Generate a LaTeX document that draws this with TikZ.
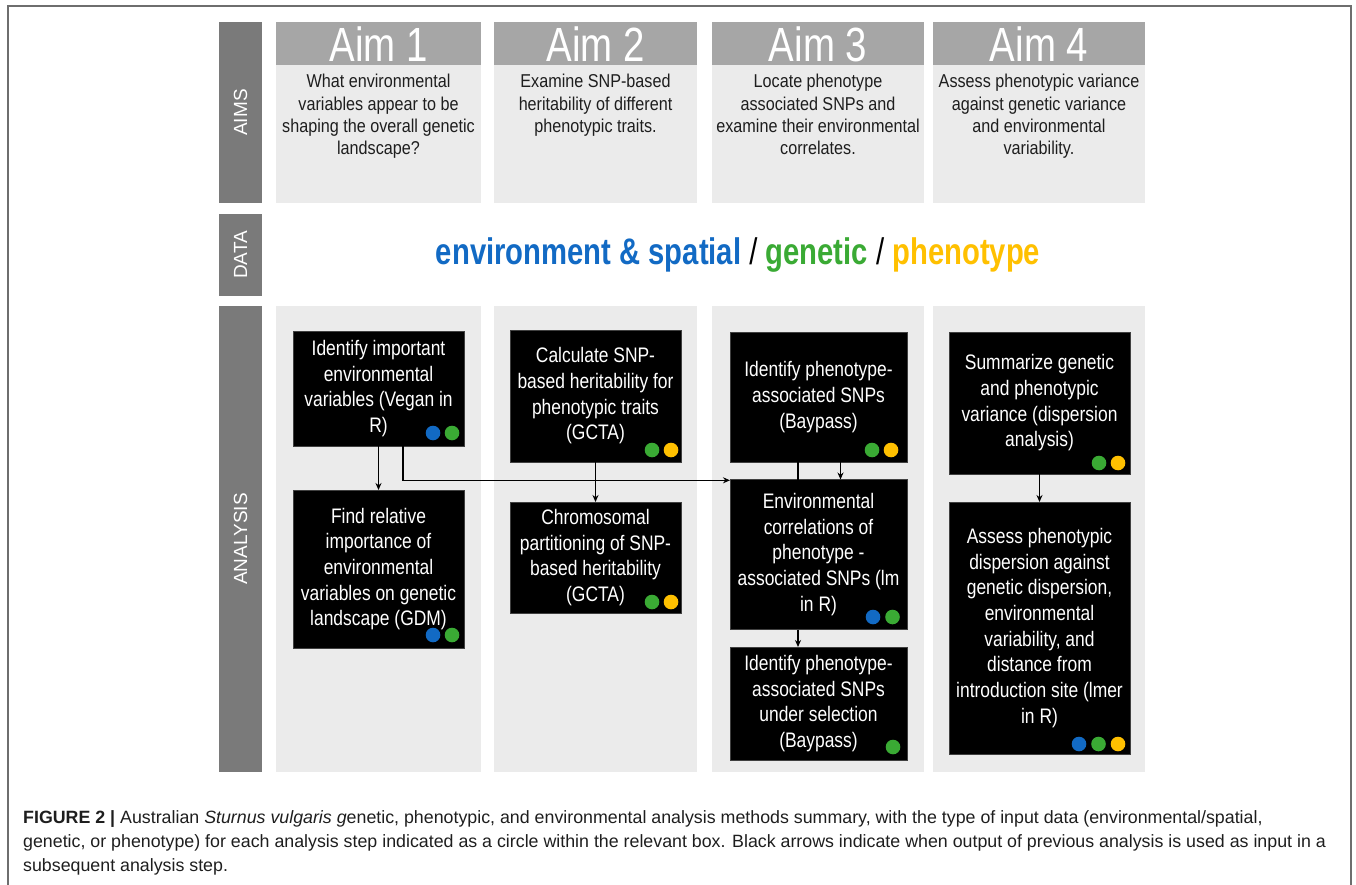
\documentclass[tikz,border=0pt]{standalone}
\usepackage{fontspec}
\setmainfont{Liberation Sans}
\newfontfamily\aimhfont[FakeStretch=0.8]{Liberation Sans}
\newfontfamily\aimbfont[FakeStretch=0.87]{Liberation Sans}
\newfontfamily\boxfont[FakeStretch=0.83]{Liberation Sans}
\newfontfamily\datafont[FakeStretch=0.79]{Liberation Sans}
\usetikzlibrary{arrows.meta}
\definecolor{side}{RGB}{122,122,122}
\definecolor{headg}{RGB}{166,166,166}
\definecolor{lightg}{RGB}{235,235,235}
\definecolor{cblue}{RGB}{18,106,196}
\definecolor{cgreen}{RGB}{58,170,52}
\definecolor{cyellow}{RGB}{255,192,0}
\definecolor{txt}{RGB}{30,30,30}
\definecolor{framec}{RGB}{110,110,110}
\begin{document}
\begin{tikzpicture}[x=1pt,y=-1pt,
  rectnode/.style={inner sep=0, outer sep=0, anchor=north west, draw=none},
  sidebar/.style={rectnode, fill=side, minimum width=43},
  colbg/.style={rectnode, fill=lightg},
  aimhead/.style={rectnode, fill=headg, minimum height=43},
  sidelabel/.style={text=white, font=\fontsize{19}{19}\selectfont, rotate=90, inner sep=0},
  aimtitle/.style={text=white, font=\aimhfont\fontsize{48}{48}\selectfont, anchor=base, inner sep=0},
  aimtext/.style={text=txt, font=\aimbfont\fontsize{18.6}{22.4}\selectfont, align=center, anchor=north, inner sep=0},
  bbox/.style={rectnode, fill=black, draw=black!75!white, line width=0.6pt, text=white, align=center, font=\boxfont\fontsize{21}{25.7}\selectfont},
  arr/.style={-{Stealth[length=7pt,width=6pt]}, line width=1.4pt},
  ln/.style={line width=1.4pt},
  dot/.style={radius=7.3pt}]
\useasboundingbox (0,0) rectangle (1356,885);
% frame
\draw[framec, line width=1.2pt] (8,885) -- (8,6) -- (1351,6) -- (1351,885);
% sidebars
\node[sidebar, minimum height=181] (sAims) at (219,22) {};
\node[sidebar, minimum height=82] (sData) at (219,214) {};
\node[sidebar, minimum height=466] (sAna) at (219,306) {};
\node[sidelabel] (lAims) at (sAims.center) {AIMS};
\node[sidelabel] (lData) at (sData.center) {DATA};
\node[sidelabel] (lAna) at (sAna.center) {ANALYSIS};
% aim columns
\node[colbg, minimum width=205, minimum height=181] (a1) at (276,22) {};
\node[colbg, minimum width=203, minimum height=181] (a2) at (494,22) {};
\node[colbg, minimum width=212, minimum height=181] (a3) at (712,22) {};
\node[colbg, minimum width=212, minimum height=181] (a4) at (933,22) {};
\node[aimhead, minimum width=205] (h1) at (276,22) {};
\node[aimhead, minimum width=203] (h2) at (494,22) {};
\node[aimhead, minimum width=212] (h3) at (712,22) {};
\node[aimhead, minimum width=212] (h4) at (933,22) {};
\node[aimtitle] (ht1) at (378.5,61.5) {Aim 1};
\node[aimtitle] (ht2) at (595.5,61.5) {Aim 2};
\node[aimtitle] (ht3) at (818,61.5) {Aim 3};
\node[aimtitle] (ht4) at (1039,61.5) {Aim 4};
\node[aimtext] (t1) at (378.5,74) {What environmental\\variables appear to be\\shaping the overall genetic\\landscape?};
\node[aimtext] (t2) at (595.5,74) {Examine SNP-based\\heritability of different\\phenotypic traits.};
\node[aimtext] (t3) at (818,74) {Locate phenotype\\associated SNPs and\\examine their environmental\\correlates.};
\node[aimtext] (t4) at (1039,74) {Assess phenotypic variance\\against genetic variance\\and environmental\\variability.};
% data
\node[anchor=base, inner sep=0, font=\datafont\bfseries\fontsize{37}{37}\selectfont] (dtxt) at (738,265)
  {\textcolor{cblue}{environment \& spatial} {\mdseries /} \textcolor{cgreen}{genetic} {\mdseries /} \textcolor{cyellow}{phenotype}};
% analysis columns
\node[colbg, minimum width=205, minimum height=466] (c1) at (276,306) {};
\node[colbg, minimum width=203, minimum height=466] (c2) at (494,306) {};
\node[colbg, minimum width=212, minimum height=466] (c3) at (712,306) {};
\node[colbg, minimum width=212, minimum height=466] (c4) at (933,306) {};
% analysis boxes
\node[bbox, minimum width=171, minimum height=115] (A1) at (293,331) {Identify important\\environmental\\variables (Vegan in\\R)};
\node[bbox, minimum width=171, minimum height=158] (A2) at (293,490) {Find relative\\importance of\\environmental\\variables on genetic\\landscape (GDM)};
\node[bbox, minimum width=171, minimum height=132] (B1) at (510,330) {Calculate SNP-\\based heritability for\\phenotypic traits\\(GCTA)};
\node[bbox, minimum width=171, minimum height=111] (B2) at (510,502) {Chromosomal\\partitioning of SNP-\\based heritability\\(GCTA)};
\node[bbox, minimum width=177, minimum height=130] (C1) at (730,332) {Identify phenotype-\\associated SNPs\\(Baypass)};
\node[bbox, minimum width=177, minimum height=150] (C2) at (730,479.5) {Environmental\\correlations of\\phenotype -\\associated SNPs (lm\\in R)};
\node[bbox, minimum width=177, minimum height=113] (C3) at (730,647) {Identify phenotype-\\associated SNPs\\under selection\\(Baypass)};
\node[bbox, minimum width=181, minimum height=142] (D1) at (949,332) {Summarize genetic\\and phenotypic\\variance (dispersion\\analysis)};
\node[bbox, minimum width=181, minimum height=252] (D2) at (949,502) {Assess phenotypic\\dispersion against\\genetic dispersion,\\environmental\\variability, and\\distance from\\introduction site (lmer\\in R)};
% connectors
\draw[arr] (A1.south) -- (A2.north);
\draw[arr] ([xshift=24.5pt]A1.south) |- ([yshift=-0.8pt]C2.north west);
\draw[arr] (B1.south) -- (B2.north);
\draw[ln] ([xshift=-20.5pt]C1.south) -- ([xshift=-20.5pt]C2.north);
\draw[arr] ([xshift=22pt]C1.south) -- ([xshift=22pt]C2.north);
\draw[arr] ([xshift=-20.5pt]C2.south) -- ([xshift=-20.5pt]C3.north);
\draw[arr] (D1.south) -- (D2.north);
% data-type dots
\fill[cblue] (433,433) circle[dot]; \fill[cgreen] (452,433) circle[dot];
\fill[cblue] (433,635) circle[dot]; \fill[cgreen] (452,635) circle[dot];
\fill[cgreen] (652,450) circle[dot]; \fill[cyellow] (671,450) circle[dot];
\fill[cgreen] (652,602) circle[dot]; \fill[cyellow] (671,602) circle[dot];
\fill[cgreen] (872,450) circle[dot]; \fill[cyellow] (891,450) circle[dot];
\fill[cblue] (873,617) circle[dot]; \fill[cgreen] (892.5,617) circle[dot];
\fill[cgreen] (893,747) circle[dot];
\fill[cgreen] (1099,463) circle[dot]; \fill[cyellow] (1118,463) circle[dot];
\fill[cblue] (1079,744) circle[dot]; \fill[cgreen] (1098.5,744) circle[dot]; \fill[cyellow] (1118,744) circle[dot];
% caption
\node[anchor=north west, align=left, inner sep=0, text=txt, font=\fontsize{17.8}{24.2}\selectfont] (cap) at (23,810)
  {\textbf{FIGURE 2 |} Australian \textit{Sturnus vulgaris g}enetic, phenotypic, and environmental analysis methods summary, with the type of input data (environmental/spatial,\\
   genetic, or phenotype) for each analysis step indicated as a circle within the relevant box. Black arrows indicate when output of previous analysis is used as input in a\\
   subsequent analysis step.};
\end{tikzpicture}
\end{document}
